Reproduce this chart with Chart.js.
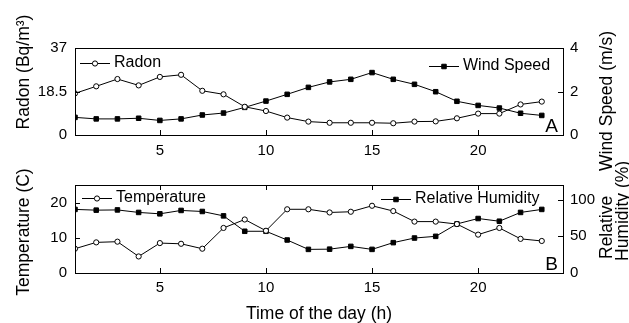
<!DOCTYPE html>
<html>
<head>
<meta charset="utf-8">
<script src="https://cdn.jsdelivr.net/npm/chart.js@4.4.0/dist/chart.umd.min.js"></script>
<style>
html,body{margin:0;padding:0;background:#fff;}
#wrap{position:relative;width:629px;height:323px;overflow:hidden;background:#fff;}
#wrap canvas{position:absolute;left:0;top:0;}
</style>
</head>
<body>
<div id="wrap">
  <canvas id="topChart" width="629" height="323"></canvas>
  <canvas id="bottomChart" width="629" height="323"></canvas>
</div>
<script>
// ===== data =====
const hours=[1,2,3,4,5,6,7,8,9,10,11,12,13,14,15,16,17,18,19,20,21,22,23];
const radon=[17.7,20.7,23.8,21.1,24.7,25.6,18.8,17.3,12.0,10.2,7.4,5.7,5.2,5.2,5.2,5.0,5.7,5.8,7.1,9.1,9.1,13.0,14.2];
const windSpeed=[0.81,0.74,0.74,0.77,0.67,0.74,0.92,1.01,1.27,1.56,1.87,2.19,2.44,2.56,2.87,2.56,2.33,1.99,1.55,1.36,1.24,1.00,0.90];
const temperature=[6.9,8.7,8.9,4.7,8.5,8.3,6.9,12.8,15.2,12.0,18.1,18.1,17.2,17.4,19.1,17.6,14.6,14.6,13.9,10.9,12.8,9.7,9.1];
const humidity=[86.7,85.7,86.0,82.6,80.7,85.3,83.9,77.9,56.9,56.9,45.0,32.2,32.5,36.3,32.2,41.4,47.7,50.0,66.9,74.3,70.6,82.6,86.7];

// tick labels
const hourTicks=[5,10,15,20];
const radonTicks=[0,18.5,37];
const windTicks=[0,2,4];
const tempTicks=[0,10,20];
const humidityTicks=[0,50,100];

const FONT='"Liberation Sans", Arial, Helvetica, sans-serif';
Chart.defaults.font.family=FONT;
Chart.defaults.color='#000';

const pts=arr=>hours.map((h,i)=>({x:h,y:arr[i]}));
const setTicks=list=>s=>{s.ticks=list.map(v=>({value:v}));};

// matlab-ish box, inward ticks, legends, rotated axis titles, panel letter
const decor={
  id:'decor',
  afterDatasetsDraw(chart,args,o){
    const {ctx,chartArea:a}=chart;
    const tl=5;
    ctx.save();
    ctx.strokeStyle='#000';ctx.lineWidth=1;
    ctx.strokeRect(a.left+.5,a.top+.5,a.width,a.height);

    const x=chart.scales.x;
    x.ticks.forEach(t=>{
      const px=Math.round(x.getPixelForValue(t.value))+.5;
      ctx.beginPath();
      ctx.moveTo(px,a.bottom);ctx.lineTo(px,a.bottom-tl);
      if(o.topTicks){ctx.moveTo(px,a.top);ctx.lineTo(px,a.top+tl);}
      ctx.stroke();
    });
    ['y','y1'].forEach(id=>{
      const s=chart.scales[id];
      s.ticks.forEach(t=>{
        const py=Math.round(s.getPixelForValue(t.value))+.5;
        ctx.beginPath();
        if(s.position==='left'){ctx.moveTo(a.left,py);ctx.lineTo(a.left+tl,py);}
        else{ctx.moveTo(a.right,py);ctx.lineTo(a.right-tl,py);}
        ctx.stroke();
      });
    });

    // legends (one per series, like the original)
    ctx.font='16px '+FONT;ctx.textBaseline='middle';ctx.textAlign='left';
    o.legends.forEach(l=>{
      const ds=chart.data.datasets[l.index];
      ctx.strokeStyle=ds.borderColor;ctx.lineWidth=ds.borderWidth;
      ctx.beginPath();ctx.moveTo(l.x,l.y+.5);ctx.lineTo(l.x+30,l.y+.5);ctx.stroke();
      ctx.fillStyle=ds.pointBackgroundColor;ctx.strokeStyle=ds.pointBorderColor;ctx.lineWidth=1;
      Chart.helpers.drawPoint(ctx,{pointStyle:ds.pointStyle,radius:ds.pointRadius,rotation:0,borderWidth:1},l.x+15,l.y+.5);
      ctx.fillStyle='#000';
      ctx.fillText(ds.label,l.x+34,l.y);
    });

    // axis titles, rotated bottom-to-top
    ctx.font='17.5px '+FONT;
    o.titles.forEach(t=>{
      ctx.save();
      ctx.translate(t.x,t.y);ctx.rotate(-Math.PI/2);
      ctx.textAlign=t.align||'center';ctx.textBaseline='middle';
      ctx.fillText(t.text,0,0);
      ctx.restore();
    });

    ctx.font='19px '+FONT;ctx.textAlign='right';ctx.textBaseline='alphabetic';
    ctx.fillText(o.letter,a.right-5,a.bottom-3);
    ctx.restore();
  }
};

const tickFont={size:15};

function lineSet(label,data,axis,style){
  const filled=style==='rect';
  return {
    label,data:pts(data),yAxisID:axis,
    borderColor:'#000',borderWidth:1,tension:0,
    pointStyle:style,pointRadius:filled?3.2:2.6,
    pointBackgroundColor:filled?'#000':'#fff',pointBorderColor:'#000',pointBorderWidth:1
  };
}

// ---------- panel A ----------
new Chart(document.getElementById('topChart'),{
  type:'line',
  data:{datasets:[
    lineSet('Radon',radon,'y','circle'),
    lineSet('Wind Speed',windSpeed,'y1','rect')
  ]},
  options:{
    responsive:false,animation:false,
    layout:{padding:{top:48,bottom:163,left:0,right:0}},
    plugins:{legend:{display:false},tooltip:{enabled:false},
      decor:{
        topTicks:false,letter:'A',
        legends:[{index:0,x:80,y:63},{index:1,x:429,y:66}],
        titles:[
          {text:'Radon (Bq/m³)',x:24,y:72},
          {text:'Wind Speed (m/s)',x:607,y:101}
        ]
      }
    },
    scales:{
      x:{type:'linear',min:1,max:24,afterBuildTicks:setTicks(hourTicks),afterFit:s=>{s.height=25;},
        grid:{display:false,drawTicks:false},border:{display:false},ticks:{padding:7,font:tickFont,color:'#000'}},
      y:{position:'left',min:0,max:37,afterBuildTicks:setTicks(radonTicks),afterFit:s=>{s.width=75;},
        grid:{display:false,drawTicks:false},border:{display:false},ticks:{padding:8,font:tickFont,color:'#000'}},
      y1:{position:'right',min:0,max:4,afterBuildTicks:setTicks(windTicks),afterFit:s=>{s.width=66;},
        grid:{display:false,drawTicks:false},border:{display:false},ticks:{padding:7,font:tickFont,color:'#000'}}
    }
  },
  plugins:[decor]
});

// ---------- panel B ----------
new Chart(document.getElementById('bottomChart'),{
  type:'line',
  data:{datasets:[
    lineSet('Temperature',temperature,'y','circle'),
    lineSet('Relative Humidity',humidity,'y1','rect')
  ]},
  options:{
    responsive:false,animation:false,
    layout:{padding:{top:185,bottom:0,left:0,right:0}},
    plugins:{legend:{display:false},tooltip:{enabled:false},
      decor:{
        topTicks:true,letter:'B',
        legends:[{index:0,x:82,y:198},{index:1,x:381,y:199}],
        titles:[
          {text:'Temperature (C)',x:24,y:232},
          {text:'Relative',x:607,y:259,align:'left'},
          {text:'Humidity (%)',x:623,y:261,align:'left'}
        ]
      }
    },
    scales:{
      x:{type:'linear',min:1,max:24,afterBuildTicks:setTicks(hourTicks),afterFit:s=>{s.height=50;},
        grid:{display:false,drawTicks:false},border:{display:false},ticks:{padding:6,font:tickFont,color:'#000'},
        title:{display:true,text:'Time of the day (h)',font:{size:17.5,lineHeight:1},padding:{top:0,bottom:0},color:'#000'}},
      y:{position:'left',min:0,max:25,afterBuildTicks:setTicks(tempTicks),afterFit:s=>{s.width=75;},
        grid:{display:false,drawTicks:false},border:{display:false},ticks:{padding:8,font:tickFont,color:'#000'}},
      y1:{position:'right',min:0,max:120,afterBuildTicks:setTicks(humidityTicks),afterFit:s=>{s.width=66;},
        grid:{display:false,drawTicks:false},border:{display:false},ticks:{padding:7,font:tickFont,color:'#000'}}
    }
  },
  plugins:[decor]
});
</script>
</body>
</html>
